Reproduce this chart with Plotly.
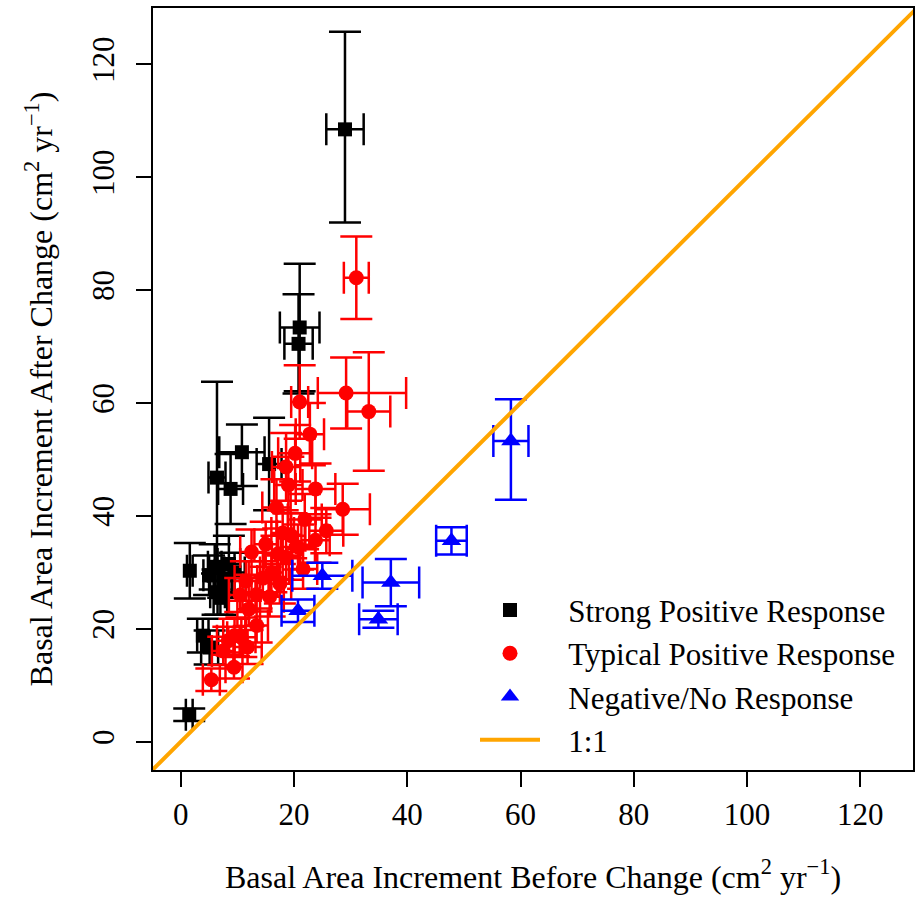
import plotly.graph_objects as go

# ---- Data ----
# Strong Positive Response (black squares)
strong_x   = [29.0, 21.0, 20.8, 10.8, 15.6, 6.4, 8.8, 1.6, 5.0, 6.0, 7.5, 6.5, 8.5, 9.5, 7.0, 3.9, 5.1, 1.5]
strong_y   = [108.5, 73.4, 70.5, 51.3, 49.2, 46.8, 44.8, 30.3, 29.5, 31.0, 28.5, 26.5, 31.5, 30.0, 25.5, 18.8, 16.7, 4.8]
strong_xe  = [3.3, 3.5, 2.5, 4.0, 2.2, 1.5, 2.2, 0.5, 1.0, 1.2, 1.5, 1.3, 2.0, 1.8, 1.2, 1.0, 1.5, 0.6]
strong_yep = [17.3, 11.3, 8.8, 4.9, 8.2, 17.0, 6.2, 4.9, 3.5, 4.0, 3.0, 4.0, 5.0, 3.5, 3.0, 3.0, 3.0, 1.1]
strong_yem = [16.5, 11.3, 8.8, 6.0, 8.2, 17.0, 6.2, 4.9, 3.5, 4.0, 3.0, 4.0, 5.0, 3.5, 3.0, 3.0, 3.0, 1.1]

# Typical Positive Response (red circles)
typical_x   = [31.0, 29.2, 33.2, 21.0, 22.8, 20.2, 18.6, 23.8, 28.6, 16.9, 21.9, 25.7, 23.8, 20.7,
               17.2, 18.6, 12.5, 21.6, 13.4, 15.7, 13.4, 9.5, 10.7, 8.4, 11.8, 7.5, 9.4, 5.4,
               18.0, 16.0, 11.5, 14.5, 10.5, 19.0, 17.5, 12.0, 19.5, 15.0]
typical_y   = [82.2, 61.8, 58.5, 60.2, 54.5, 51.1, 48.7, 44.8, 41.2, 41.5, 39.4, 37.4, 35.7, 34.5,
               33.3, 32.7, 33.6, 30.6, 26.1, 25.7, 20.6, 18.8, 18.5, 17.9, 16.8, 16.1, 13.2, 11.0,
               37.0, 30.0, 28.5, 29.0, 26.0, 45.5, 28.0, 23.5, 36.5, 35.0]
typical_xep = [2.2, 10.6, 3.8, 1.5, 2.5, 3.0, 2.5, 3.5, 4.8, 2.5, 3.0, 3.0, 2.5, 3.0,
               2.5, 2.5, 2.0, 2.5, 2.5, 2.5, 2.0, 2.0, 2.5, 2.0, 2.5, 2.0, 1.5, 1.5,
               2.0, 2.0, 2.0, 2.5, 2.0, 2.5, 2.0, 2.0, 2.5, 2.0]
typical_xem = [2.2, 5.0, 3.8, 1.5, 2.5, 3.0, 2.5, 3.5, 4.8, 2.5, 3.0, 3.0, 2.5, 3.0,
               2.5, 2.5, 2.0, 2.5, 2.5, 2.5, 2.0, 2.0, 2.5, 2.0, 2.5, 2.0, 1.5, 1.5,
               2.0, 2.0, 2.0, 2.5, 2.0, 2.5, 2.0, 2.0, 2.5, 2.0]
typical_ye  = [7.3, 6.3, 10.5, 6.5, 5.5, 5.0, 6.0, 4.5, 4.5, 5.0, 4.5, 4.0, 4.0, 4.0,
               4.5, 4.0, 4.0, 3.5, 3.0, 3.5, 3.0, 3.0, 3.5, 2.5, 3.0, 2.5, 2.0, 2.0,
               4.0, 3.5, 3.5, 3.0, 3.0, 5.0, 3.5, 3.0, 4.0, 4.0]

# Negative/No Response (blue triangles)
negative_x   = [58.3, 47.8, 37.1, 34.9, 25.0, 20.7]
negative_y   = [53.3, 35.6, 28.2, 21.7, 29.4, 23.2]
negative_xe  = [3.1, 2.7, 5.0, 3.4, 5.3, 2.9]
negative_yep = [7.4, 2.4, 4.2, 1.5, 2.3, 2.0]
negative_yem = [10.4, 2.4, 4.2, 1.5, 2.3, 2.0]

# 1:1 reference line extent
one_to_one = [-10, 140]

tick_vals = [0, 20, 40, 60, 80, 100, 120]

FONT = "Liberation Serif"
FS = 31
PAD = "\u00a0\u00a0\u00a0"  # gap between legend key and label

fig = go.Figure()

def err(arr, arrm, color):
    return dict(type="data", symmetric=False, array=arr, arrayminus=arrm,
                color=color, thickness=2.5, width=16)

fig.add_trace(go.Scatter(
    x=strong_x, y=strong_y, mode="markers", name=PAD + "Strong Positive Response",
    marker=dict(symbol="square", size=14, color="black"),
    error_x=err(strong_xe, strong_xe, "black"),
    error_y=err(strong_yep, strong_yem, "black"),
))
fig.add_trace(go.Scatter(
    x=typical_x, y=typical_y, mode="markers", name=PAD + "Typical Positive Response",
    marker=dict(symbol="circle", size=15, color="red"),
    error_x=err(typical_xep, typical_xem, "red"),
    error_y=err(typical_ye, typical_ye, "red"),
))
fig.add_trace(go.Scatter(
    x=negative_x, y=negative_y, mode="markers", name=PAD + "Negative/No Response",
    marker=dict(symbol="triangle-up", size=17, color="blue"),
    error_x=err(negative_xe, negative_xe, "blue"),
    error_y=err(negative_yep, negative_yem, "blue"),
))
fig.add_trace(go.Scatter(
    x=one_to_one, y=one_to_one, mode="lines", name=PAD + "1:1",
    line=dict(color="orange", width=4),
))

axis_common = dict(
    tickvals=tick_vals, ticks="outside", ticklen=15, tickwidth=1.5, tickcolor="black",
    showline=True, mirror=True, linecolor="black", linewidth=2,
    showgrid=False, zeroline=False, automargin=False,
    tickfont=dict(family=FONT, size=FS, color="black"),
)

fig.update_layout(
    width=915, height=897,
    margin=dict(l=153, r=2, t=8, b=127, autoexpand=False),
    paper_bgcolor="white", plot_bgcolor="white",
    font=dict(family=FONT, size=FS, color="black"),
    xaxis=dict(range=[-4.9, 129.3],
               title=dict(text="Basal Area Increment Before Change (cm<sup>2</sup> yr<sup>\u22121</sup>)",
                          font=dict(family=FONT, size=32), standoff=34),
               ticklabelstandoff=1, **axis_common),
    yaxis=dict(range=[-5, 130], tickangle=-90,
               title=dict(text="Basal Area Increment After Change (cm<sup>2</sup> yr<sup>\u22121</sup>)",
                          font=dict(family=FONT, size=32), standoff=23),
               ticklabelstandoff=10, **axis_common),
    legend=dict(x=(475 - 153) / 760, y=0.245, xanchor="left", yanchor="top",
                bgcolor="rgba(0,0,0,0)", borderwidth=0, itemwidth=60,
                font=dict(family=FONT, size=FS, color="black")),
    showlegend=True,
)

fig.write_html("out.html",
               config={"displayModeBar": False},
               post_script="document.body.style.margin='0';document.body.style.overflow='hidden';")
